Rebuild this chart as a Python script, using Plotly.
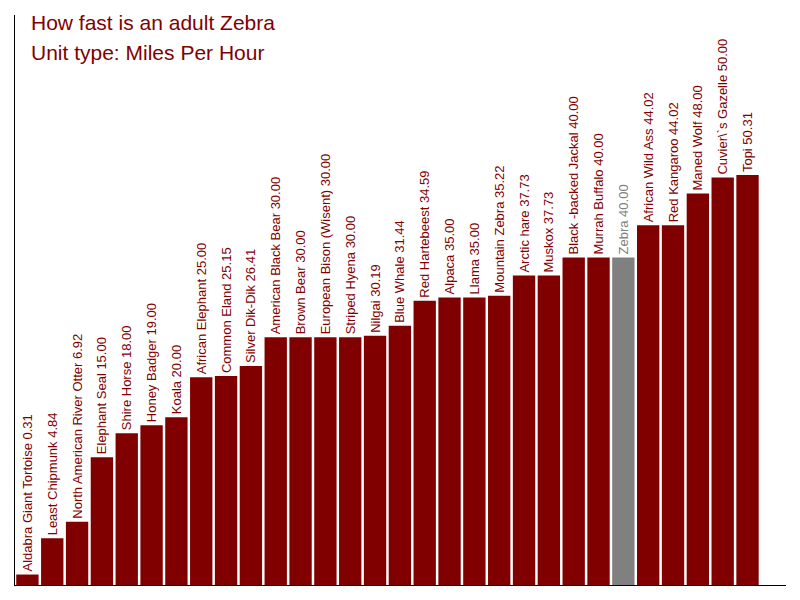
import plotly.graph_objects as go

# animal speeds, miles per hour
animals = [
    'Aldabra Giant Tortoise', 'Least Chipmunk', 'North American River Otter',
    'Elephant Seal', 'Shire Horse', 'Honey Badger', 'Koala', 'African Elephant',
    'Common Eland', 'Silver Dik-Dik', 'American Black Bear', 'Brown Bear',
    'European Bison (Wisent)', 'Striped Hyena', 'Nilgai', 'Blue Whale',
    'Red Hartebeest', 'Alpaca', 'Llama', 'Mountain Zebra', 'Arctic hare',
    'Muskox', 'Black -backed Jackal', 'Murrah Buffalo', 'Zebra',
    'African Wild Ass', 'Red Kangaroo', 'Maned Wolf', 'Cuvier\\`s Gazelle', 'Topi',
]
speeds = [
    0.31, 4.84, 6.92, 15.00, 18.00, 19.00, 20.00, 25.00, 25.15, 26.41,
    30.00, 30.00, 30.00, 30.00, 30.19, 31.44, 34.59, 35.00, 35.00, 35.22,
    37.73, 37.73, 40.00, 40.00, 40.00, 44.02, 44.02, 48.00, 50.00, 50.31,
]
highlight = 'Zebra'

MAROON = '#800000'
GREY = '#808080'
FONT = 'Liberation Sans, Arial, sans-serif'

# bars in the original start from the bottom of the axis, not from zero
y_floor = -1
y_top = 70.35

colors = [GREY if a == highlight else MAROON for a in animals]
labels = [f'{a} {v:.2f}' for a, v in zip(animals, speeds)]

fig = go.Figure(go.Bar(
    x=list(range(len(animals))),
    y=[v - y_floor for v in speeds],
    base=y_floor,
    marker=dict(color=colors, line_width=0),
    text=labels,
    textposition='outside',
    textangle=-90,
    constraintext='none',
    cliponaxis=False,
    outsidetextfont=dict(family=FONT, size=13, color=colors),
    hoverinfo='skip',
))

# the page body adds 8px, so margins are trimmed to put the plot at 15..786 / 15..585
fig.update_layout(
    width=800, height=600,
    margin=dict(l=7, r=22, t=7, b=23),
    paper_bgcolor='white', plot_bgcolor='white',
    bargap=0.1,
    showlegend=False,
    font=dict(family=FONT),
)
fig.update_xaxes(range=[-0.5, 30.55], showline=True, linecolor='black', linewidth=1,
                 showgrid=False, zeroline=False, showticklabels=False, ticks='')
fig.update_yaxes(range=[y_floor, y_top], showline=True, linecolor='black', linewidth=1,
                 showgrid=False, zeroline=False, showticklabels=False, ticks='')

fig.add_annotation(text='How fast is an adult Zebra', xref='paper', yref='paper',
                   x=0.018, y=0.9867, xanchor='left', yanchor='middle', showarrow=False,
                   font=dict(family=FONT, size=21, color=MAROON))
fig.add_annotation(text='Unit type: Miles Per Hour', xref='paper', yref='paper',
                   x=0.018, y=0.935, xanchor='left', yanchor='middle', showarrow=False,
                   font=dict(family=FONT, size=21, color=MAROON))

fig.write_html('out.html')
